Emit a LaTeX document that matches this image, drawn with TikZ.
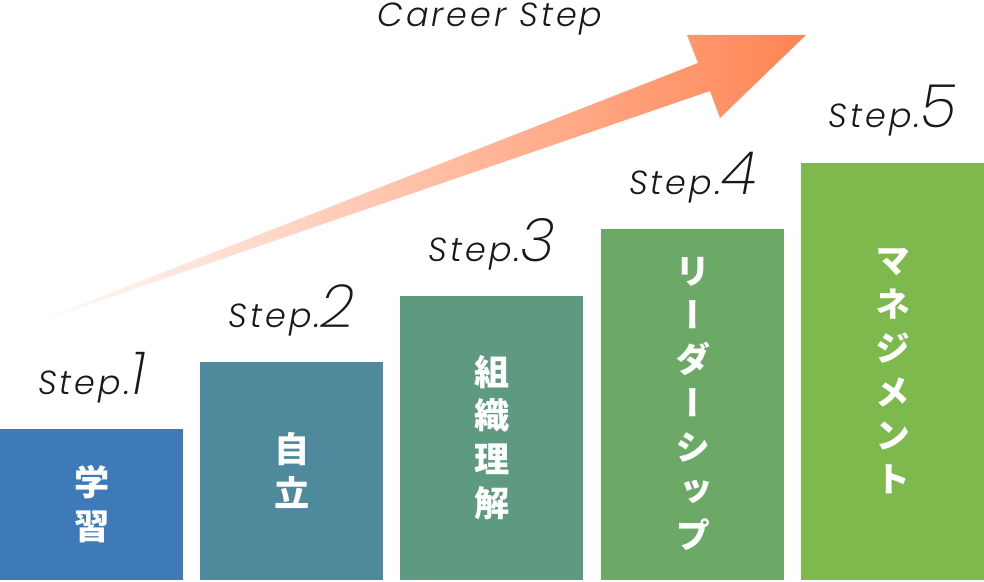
\documentclass[tikz,border=0pt]{standalone}
\usepackage{fontspec}
\usetikzlibrary{positioning}

\newfontfamily\jpfont{Noto Sans CJK JP}[RawFeature=+vert]
\newfontfamily\stepfont{Poppins Light Italic}[LetterSpace=9]
\newfontfamily\numfont{Poppins ExtraLight Italic}

\definecolor{learnc}{HTML}{3F7AB8}
\definecolor{indepc}{HTML}{4E8A9B}
\definecolor{orgc}{HTML}{5D9A80}
\definecolor{leaderc}{HTML}{6CA967}
\definecolor{managec}{HTML}{7DB94D}
\definecolor{arrowc}{HTML}{FF8453}

\newcommand\stepno[1]{{\stepfont\fontsize{19}{19}\selectfont Step.}{\numfont\fontsize{34}{34}\selectfont #1}}

\begin{document}
\begin{tikzpicture}[
        % Balken und Beschriftungen
        bar/.style={rectangle, anchor=south west, inner sep=0pt, minimum width=3.66cm, align=center, text=white, font=\jpfont\bfseries\fontsize{20}{25}\selectfont},
        steplabel/.style={anchor=base, text=black!90, inner sep=0pt},
        title/.style={anchor=base, text=black!90, font=\stepfont\fontsize{19}{19}\selectfont}
    ]
    \useasboundingbox (0,0) rectangle (19.68,11.64);

    % ==========================================
    % 1. PFEIL (CAREER STEP)
    % ==========================================
    \coordinate (tail)  at (0.36, 5.06);
    \coordinate (tip)   at (16.12, 10.94);
    \shade[left color=white, right color=arrowc]
        (tail) -- (13.96, 10.38) -- (13.74, 10.94) -- (tip)
        -- (14.40, 9.28) -- (14.20, 9.82) -- cycle;

    \node[title] (career) at (9.8, 11.10) {Career Step};

    % ==========================================
    % 2. BALKEN
    % ==========================================
    \node[bar, fill=learnc,   minimum height=3.02cm] (learn)  at (0, 0.04)     {学\\習};
    \node[bar, fill=indepc,   minimum height=4.36cm] (indep)  at (4.0, 0.04)   {自\\立};
    \node[bar, fill=orgc,     minimum height=5.68cm] (org)    at (8.0, 0.04)   {組\\織\\理\\解};
    \node[bar, fill=leaderc,  minimum height=7.02cm] (leader) at (12.02, 0.04) {リ\\ー\\ダ\\ー\\シ\\ッ\\プ};
    \node[bar, fill=managec,  minimum height=8.34cm] (manage) at (16.02, 0.04) {マ\\ネ\\ジ\\メ\\ン\\ト};

    % ==========================================
    % 3. STUFEN
    % ==========================================
    \node[steplabel, above=0.68cm of learn,  anchor=base] (step1) {\stepno{1}};
    \node[steplabel, above=0.68cm of indep,  anchor=base] (step2) {\stepno{2}};
    \node[steplabel, above=0.68cm of org,    anchor=base] (step3) {\stepno{3}};
    \node[steplabel, above=0.68cm of leader, anchor=base] (step4) {\stepno{4}};
    \node[steplabel, above=0.70cm of manage, anchor=base] (step5) {\stepno{5}};

\end{tikzpicture}
\end{document}
